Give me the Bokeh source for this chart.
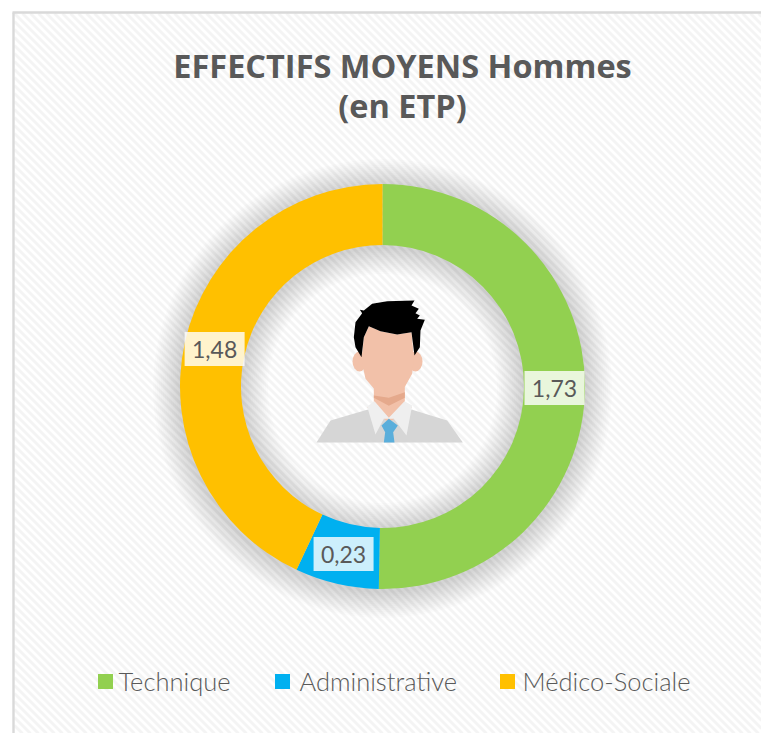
import math
from bokeh.plotting import figure
from bokeh.models import Range1d
from bokeh.core.properties import value
from bokeh.embed import file_html
from bokeh.resources import INLINE

categories = ["Technique", "Administrative", "Médico-Sociale"]
values = [1.73, 0.23, 1.48]
labels = ["1,73", "0,23", "1,48"]
colors = ["#92D050", "#00B0F0", "#FFC000"]
title_lines = ["EFFECTIFS MOYENS Hommes", "(en ETP)"]
legend_square_x = [105, 282, 507]
legend_text_x = [118, 299, 522]

W, H = 761, 733
p = figure(width=W, height=H, output_backend="svg", toolbar_location=None,
           x_range=Range1d(0, W), y_range=Range1d(0, H), min_border=0,
           outline_line_color=None, background_fill_color="white", border_fill_color="white")
p.axis.visible = False
p.grid.visible = False

Y = lambda v: H - v
L, T = 14, 13

# background panel with diagonal stripes
p.quad(left=[L], right=[W], top=[Y(T)], bottom=[0], fill_color="#ffffff", line_color=None)
xs, ys = [], []
step = 8.0
c = L - (H - T)
while c < W:
    x0, y0 = c, T
    x1, y1 = c + (H - T), H
    if x0 < L:
        y0 += L - x0
        x0 = L
    if x1 > W:
        y1 -= x1 - W
        x1 = W
    if x1 > x0:
        xs.append([x0, x1])
        ys.append([Y(y0), Y(y1)])
    c += step
p.multi_line(xs, ys, line_color="#f4f4f4", line_width=2.8)

# chart border
p.line([L - 1, L - 1], [0, Y(T - 1)], line_color="#d9d9d9", line_width=2.4)
p.line([L - 2, W], [Y(T - 1), Y(T - 1)], line_color="#d9d9d9", line_width=2.4)

CX, CY, R0, R1 = 382, 386, 141.5, 202.5

# soft shadow around the ring
N = 14
for i in range(N):
    g = 27 * (1 - i / N)
    p.annular_wedge([CX], [Y(CY + 2)], R0 - g, R1 + g, 0, 2 * math.pi,
                    fill_color="#000000", fill_alpha=0.01, line_color=None)

# doughnut
total = sum(values)
starts, ends, mids = [], [], []
acc = 0.0
for v in values:
    a0 = math.pi / 2 - acc / total * 2 * math.pi
    acc += v
    a1 = math.pi / 2 - acc / total * 2 * math.pi
    starts.append(a0)
    ends.append(a1)
    mids.append((a0 + a1) / 2)
p.annular_wedge([CX] * 3, [Y(CY)] * 3, R0, R1, starts, ends, direction="clock",
                fill_color=colors, line_color=None)

# data labels
RL = 172
lx = [CX + RL * math.cos(m) for m in mids]
ly = [Y(CY) + RL * math.sin(m) for m in mids]
p.rect(lx, ly, width=60, height=34, fill_color="#ffffff", fill_alpha=0.8, line_color=None)
p.text(lx, ly, text=labels, text_font=value("Lato"), text_font_size="23px", text_color="#595959",
       text_align="center", text_baseline="middle")

# title
p.text([402, 402], [Y(65), Y(105)], text=title_lines, text_font=value("Open Sans"),
       text_font_style="bold", text_font_size="32.5px", text_color="#595959",
       text_align="center", text_baseline="middle")

# legend
p.rect(legend_square_x, [Y(681)] * 3, width=15, height=15, fill_color=colors, line_color=None)
p.text(legend_text_x, [Y(680)] * 3, text=categories, text_font=value("Lato Light"), text_font_size="25.5px",
       text_color="#595959", text_align="left", text_baseline="middle")

# person icon (drawn in the zoom grid of the picture)
def ic(points):
    return [300 + a / 3 for a, b in points], [Y(280 + b / 3) for a, b in points]

def poly(points, color):
    x, y = ic(points)
    p.patch(x, y, fill_color=color, line_color=None)

poly([(48, 486), (90, 420), (200, 388), (335, 388), (440, 420), (487, 486)], "#d6d6d6")
for ex in (177, 345):
    p.ellipse([300 + ex / 3], [Y(280 + 243 / 3)], width=14, height=20, fill_color="#f2c1a9", line_color=None)
poly([(220, 320), (313, 320), (313, 372), (335, 380), (265, 425), (200, 380), (220, 372)], "#f2c1a9")
poly([(220, 345), (265, 352), (313, 335), (313, 352), (265, 376), (220, 352)], "#e5a98c")
poly([(205, 137), (240, 152), (290, 162), (333, 155), (340, 230), (335, 280), (310, 325), (265, 350),
      (225, 330), (195, 295), (183, 240), (190, 170)], "#f2c1a9")
poly([(160, 170), (165, 125), (185, 98), (178, 88), (190, 90), (215, 70), (260, 62), (342, 60), (333, 75),
      (355, 85), (345, 98), (358, 105), (350, 115), (373, 118), (360, 150), (358, 200), (342, 225),
      (333, 155), (290, 162), (240, 152), (205, 137), (190, 170), (183, 230), (165, 200)], "#000000")
poly([(200, 378), (222, 362), (265, 412), (312, 362), (335, 375), (318, 465), (280, 415), (250, 415), (225, 462)], "#efefef")
poly([(265, 415), (292, 435), (278, 455), (282, 486), (250, 486), (254, 455), (243, 435)], "#5aaedb")

open("out.html", "w").write(file_html(p, INLINE))
